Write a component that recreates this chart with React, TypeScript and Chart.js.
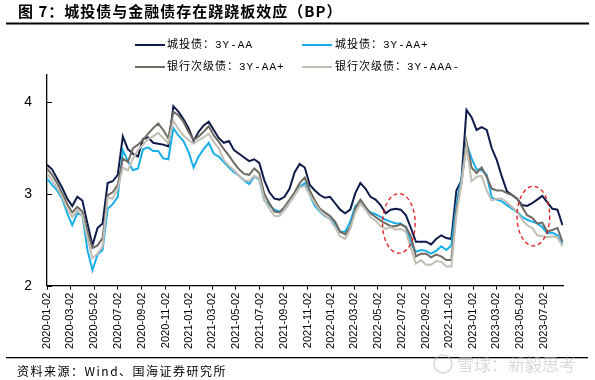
import React, { useEffect, useRef } from 'react';
import { Chart, registerables } from 'chart.js';

Chart.register(...registerables);

const titleText = '图 7：城投债与金融债存在跷跷板效应（BP）';
const sourceText = '资料来源：Wind、国海证券研究所';
const watermarkText = '雪球：新毅思考';
const seriesNames = ['城投债：3Y-AA', '城投债：3Y-AA+', '银行次级债：3Y-AA+', '银行次级债：3Y-AAA-'];
const seriesColors = ['#0e1a4a', '#18aeea', '#6e6a62', '#c2beb3'];

const sampleDates = [
  '2020-01-02','2020-01-15','2020-01-28','2020-02-10','2020-02-23','2020-03-07','2020-03-20','2020-04-02','2020-04-15','2020-04-28',
  '2020-05-11','2020-05-24','2020-06-06','2020-06-19','2020-07-02','2020-07-15','2020-07-28','2020-08-10','2020-08-23','2020-09-05',
  '2020-09-18','2020-10-01','2020-10-14','2020-10-27','2020-11-09','2020-11-22','2020-12-05','2020-12-18','2020-12-31','2021-01-13',
  '2021-01-26','2021-02-08','2021-02-21','2021-03-06','2021-03-19','2021-04-01','2021-04-14','2021-04-27','2021-05-10','2021-05-23',
  '2021-06-05','2021-06-18','2021-07-01','2021-07-14','2021-07-27','2021-08-09','2021-08-22','2021-09-04','2021-09-17','2021-09-30',
  '2021-10-13','2021-10-26','2021-11-08','2021-11-21','2021-12-04','2021-12-17','2021-12-30','2022-01-12','2022-01-25','2022-02-07',
  '2022-02-20','2022-03-05','2022-03-18','2022-03-31','2022-04-13','2022-04-26','2022-05-09','2022-05-22','2022-06-04','2022-06-17',
  '2022-06-30','2022-07-13','2022-07-26','2022-08-08','2022-08-21','2022-09-03','2022-09-16','2022-09-29','2022-10-12','2022-10-25',
  '2022-11-07','2022-11-20','2022-12-03','2022-12-16','2022-12-29','2023-01-11','2023-01-24','2023-02-06','2023-02-19','2023-03-04',
  '2023-03-17','2023-03-30','2023-04-12','2023-04-25','2023-05-08','2023-05-21','2023-06-03','2023-06-16','2023-06-29','2023-07-12',
  '2023-07-25','2023-08-07','2023-08-20',
];

const cityAA = [
  3.32,3.27,3.17,3.07,2.95,2.87,2.97,2.93,2.68,2.44,
  2.63,2.68,3.12,3.14,3.21,3.63,3.49,3.44,3.41,3.60,
  3.62,3.56,3.55,3.54,3.52,3.96,3.90,3.82,3.72,3.58,
  3.68,3.75,3.79,3.70,3.61,3.56,3.58,3.48,3.44,3.40,
  3.36,3.38,3.34,3.15,3.02,2.95,2.94,2.97,3.06,3.24,
  3.33,3.29,3.10,3.04,2.99,2.96,2.97,2.90,2.83,2.79,
  2.83,3.01,3.12,3.06,2.97,2.94,2.88,2.79,2.83,2.84,
  2.83,2.77,2.63,2.48,2.48,2.48,2.45,2.51,2.55,2.52,
  2.51,3.04,3.15,3.92,3.84,3.70,3.73,3.70,3.50,3.37,
  3.19,3.03,2.99,2.95,2.88,2.87,2.90,2.94,2.98,2.91,
  2.84,2.83,2.66,
];

const cityAAPlus = [
  3.17,3.10,3.04,2.95,2.79,2.66,2.79,2.77,2.39,2.17,
  2.34,2.39,2.84,2.89,2.97,3.48,3.36,3.26,3.28,3.49,
  3.51,3.47,3.47,3.39,3.38,3.72,3.64,3.58,3.46,3.29,
  3.41,3.49,3.56,3.44,3.41,3.35,3.29,3.24,3.20,3.15,
  3.11,3.19,3.16,2.93,2.88,2.83,2.81,2.83,2.91,2.99,
  3.08,3.12,2.99,2.87,2.81,2.76,2.73,2.67,2.59,2.59,
  2.70,2.87,2.92,2.84,2.80,2.78,2.75,2.72,2.70,2.68,
  2.68,2.64,2.46,2.37,2.39,2.38,2.35,2.38,2.43,2.39,
  2.44,2.89,3.17,3.55,3.39,3.27,3.26,3.21,2.96,2.94,
  2.92,2.88,2.84,2.81,2.75,2.72,2.70,2.68,2.64,2.57,
  2.58,2.55,2.46,
];

const bankAAPlus = [
  3.28,3.21,3.12,3.01,2.89,2.80,2.86,2.81,2.59,2.41,
  2.44,2.52,2.99,3.02,3.10,3.39,3.35,3.50,3.54,3.59,
  3.66,3.72,3.77,3.70,3.61,3.90,3.86,3.79,3.68,3.59,
  3.63,3.68,3.74,3.64,3.57,3.49,3.42,3.34,3.27,3.22,
  3.21,3.28,3.23,3.00,2.90,2.81,2.80,2.86,2.94,3.02,
  3.12,3.18,3.04,2.93,2.84,2.80,2.76,2.70,2.59,2.56,
  2.64,2.84,2.94,2.86,2.79,2.75,2.71,2.68,2.65,2.65,
  2.67,2.64,2.54,2.32,2.35,2.35,2.31,2.34,2.32,2.28,
  2.28,2.83,3.12,3.57,3.29,3.23,3.29,3.19,3.06,3.04,
  3.04,3.01,2.99,2.95,2.86,2.77,2.74,2.68,2.69,2.59,
  2.61,2.63,2.48,
];

const bankAAAMinus = [
  3.23,3.15,3.07,2.97,2.84,2.75,2.82,2.77,2.52,2.30,
  2.35,2.43,2.96,2.95,3.06,3.29,3.26,3.39,3.48,3.54,
  3.60,3.63,3.67,3.61,3.56,3.80,3.71,3.64,3.59,3.55,
  3.59,3.62,3.66,3.57,3.50,3.37,3.31,3.26,3.20,3.15,
  3.14,3.20,3.17,2.94,2.84,2.76,2.76,2.83,2.91,2.99,
  3.07,3.09,2.99,2.90,2.82,2.77,2.72,2.64,2.54,2.51,
  2.62,2.80,2.90,2.83,2.75,2.71,2.65,2.62,2.64,2.61,
  2.62,2.59,2.41,2.24,2.28,2.23,2.23,2.27,2.26,2.21,
  2.21,2.77,3.12,3.52,3.14,3.19,3.20,3.04,2.93,2.95,
  2.95,2.91,2.86,2.81,2.72,2.66,2.63,2.55,2.54,2.53,
  2.54,2.53,2.43,
];

const xTickLabels = [
  '2020-01-02','2020-03-02','2020-05-02','2020-07-02','2020-09-02','2020-11-02',
  '2021-01-02','2021-03-02','2021-05-02','2021-07-02','2021-09-02','2021-11-02',
  '2022-01-02','2022-03-02','2022-05-02','2022-07-02','2022-09-02','2022-11-02',
  '2023-01-02','2023-03-02','2023-05-02','2023-07-02',
];
const xAxisEnd = '2023-08-22';
const yTicks = [2, 3, 4];
const yMin = 2;
const yMax = 4.3;

const highlightDates = ['2022-06-25', '2023-06-06'];
const highlightValues = [2.68, 2.76];
const highlightHalfDays = 42;
const highlightHalfValue = 0.325;

const dayOf = (s: string) => {
  const [y, m, d] = s.split('-').map(Number);
  return (Date.UTC(y, m - 1, d) - Date.UTC(2020, 0, 2)) / 86400000;
};

const xTickDays = xTickLabels.map(dayOf);

const CJK = '"Noto Sans CJK SC", "Noto Sans", sans-serif';
const LEGEND_FONT = '11px "Liberation Mono", "Noto Sans CJK SC", monospace';

const decorPlugin = {
  id: 'decor',
  afterDraw(chart: any) {
    const ctx = chart.ctx as CanvasRenderingContext2D;
    const area = chart.chartArea;
    const xs = chart.scales.x;
    const ys = chart.scales.y;
    ctx.save();

    // y ticks pointing inward
    ctx.strokeStyle = '#000';
    ctx.lineWidth = 1;
    yTicks.forEach((v) => {
      const py = Math.round(ys.getPixelForValue(v)) + 0.5;
      ctx.beginPath();
      ctx.moveTo(area.left, py);
      ctx.lineTo(area.left + 5, py);
      ctx.stroke();
    });

    // highlight ellipses
    ctx.strokeStyle = '#e3191c';
    ctx.lineWidth = 1.3;
    ctx.setLineDash([4, 3]);
    highlightDates.forEach((d, i) => {
      const day = dayOf(d);
      const cx = xs.getPixelForValue(day);
      const cy = ys.getPixelForValue(highlightValues[i]);
      const rx = xs.getPixelForValue(day + highlightHalfDays) - cx;
      const ry = cy - ys.getPixelForValue(highlightValues[i] + highlightHalfValue);
      ctx.beginPath();
      ctx.ellipse(cx, cy, rx, ry, 0, 0, Math.PI * 2);
      ctx.stroke();
    });
    ctx.setLineDash([]);

    // title
    ctx.fillStyle = '#000';
    ctx.textAlign = 'left';
    ctx.textBaseline = 'middle';
    ctx.font = `bold 15px ${CJK}`;
    (ctx as any).letterSpacing = '1px';
    ctx.fillText(titleText, 18, 11);
    (ctx as any).letterSpacing = '0px';
    ctx.fillRect(6, 22.5, 583, 2);

    // legend
    const colLine = [[135, 165], [302, 332]];
    const colText = [167, 335];
    const rowY = [45, 67];
    ctx.font = LEGEND_FONT;
    (ctx as any).letterSpacing = '1px';
    seriesNames.forEach((name, i) => {
      const c = i % 2;
      const r = Math.floor(i / 2);
      ctx.strokeStyle = seriesColors[i];
      ctx.lineWidth = 2;
      ctx.beginPath();
      ctx.moveTo(colLine[c][0], rowY[r]);
      ctx.lineTo(colLine[c][1], rowY[r]);
      ctx.stroke();
      ctx.fillStyle = '#000';
      ctx.fillText(name, colText[c], rowY[r] + 0.5);
    });

    // footer
    ctx.fillStyle = '#000';
    ctx.fillRect(6, 357, 582, 1.3);
    ctx.font = `12px ${CJK}`;
    (ctx as any).letterSpacing = '1.5px';
    ctx.fillText(sourceText, 17, 371);
    (ctx as any).letterSpacing = '0px';

    // watermark
    ctx.globalAlpha = 0.55;
    ctx.strokeStyle = '#b9b9b9';
    ctx.lineWidth = 1.5;
    ctx.beginPath();
    ctx.arc(443, 364, 9, 0, Math.PI * 2);
    ctx.stroke();
    ctx.fillStyle = '#b9b9b9';
    ctx.font = `17px ${CJK}`;
    ctx.fillText(watermarkText, 457, 365);
    ctx.restore();
  },
};

export default function App() {
  const ref = useRef<HTMLCanvasElement>(null);
  useEffect(() => {
    if (!ref.current) return;
    Chart.defaults.font.family = '"Liberation Sans", Arial, sans-serif';
    const series = [cityAA, cityAAPlus, bankAAPlus, bankAAAMinus];
    const chart = new Chart(ref.current, {
      type: 'line',
      data: {
        datasets: series.map((arr, i) => ({
          label: seriesNames[i],
          data: sampleDates.map((d, j) => ({ x: dayOf(d), y: arr[j] })),
          borderColor: seriesColors[i],
          backgroundColor: seriesColors[i],
          borderWidth: 2,
          pointRadius: 0,
          tension: 0,
          order: 4 - i,
        })),
      },
      options: {
        animation: false,
        responsive: false,
        devicePixelRatio: 1,
        layout: { padding: { top: 75, right: 31.7, left: 0, bottom: 0 } },
        plugins: {
          legend: { display: false },
          tooltip: { enabled: false },
          title: { display: false },
        },
        scales: {
          x: {
            type: 'linear',
            min: 0,
            max: dayOf(xAxisEnd),
            afterFit: (s: any) => {
              s.height = 94.3;
              s.paddingLeft = 0;
              s.paddingRight = 0;
            },
            afterBuildTicks: (s: any) => {
              s.ticks = xTickDays.map((v) => ({ value: v }));
            },
            ticks: {
              autoSkip: false,
              maxRotation: 90,
              minRotation: 90,
              padding: 3,
              color: '#000',
              font: { family: '"Liberation Sans", Arial, sans-serif', size: 11 },
              callback: (v: any) => {
                const idx = xTickDays.indexOf(Number(v));
                return idx >= 0 ? xTickLabels[idx] : '';
              },
            },
            grid: { drawOnChartArea: false, drawTicks: true, tickLength: 4, color: '#000', lineWidth: 1 },
            border: { display: true, color: '#000', width: 1.3 },
          },
          y: {
            min: yMin,
            max: yMax,
            afterFit: (s: any) => {
              s.width = 47;
              s.paddingTop = 0;
              s.paddingBottom = 0;
            },
            afterBuildTicks: (s: any) => {
              s.ticks = yTicks.map((v) => ({ value: v }));
            },
            ticks: {
              padding: 15,
              color: '#000',
              font: { family: '"Liberation Sans", Arial, sans-serif', size: 14 },
            },
            grid: { drawOnChartArea: false, drawTicks: false },
            border: { display: true, color: '#000', width: 1.3 },
          },
        },
      } as any,
      plugins: [decorPlugin],
    });
    return () => chart.destroy();
  }, []);
  return (
    <div style={{ position: 'fixed', left: 0, top: 0, width: 595, height: 380, background: '#fff' }}>
      <canvas ref={ref} width={595} height={380} style={{ width: 595, height: 380 }} />
    </div>
  );
}
